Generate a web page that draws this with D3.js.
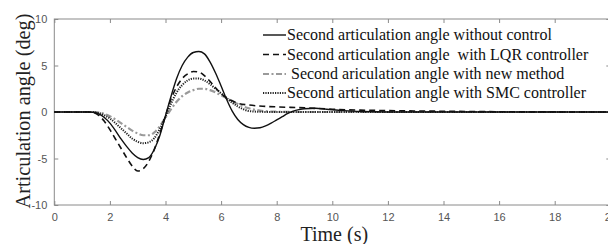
<!DOCTYPE html>
<html>
<head>
<meta charset="utf-8">
<script src="https://cdn.jsdelivr.net/npm/d3@7"></script>
<style>
  html, body { margin: 0; padding: 0; background: #fff; }
  svg { display: block; overflow: hidden; }
  .tick text { font-family: "Liberation Sans", Arial, sans-serif; font-size: 11px; fill: #555; }
  .legend text { font-family: "Liberation Serif", "Times New Roman", serif; font-size: 16px; fill: #111; white-space: pre; }
  .title { font-family: "Liberation Serif", "Times New Roman", serif; fill: #222; }
</style>
</head>
<body>
<div id="chart"></div>
<script>
// time samples (s) for each curve
const tSolid = [0, 1.2, 1.4, 1.6, 1.8, 2.0, 2.2, 2.4, 2.6, 2.8, 3.0, 3.2, 3.4, 3.6, 3.8, 4.0, 4.2, 4.4, 4.6, 4.8, 5.0, 5.2, 5.4, 5.6, 5.8, 6.0, 6.2, 6.4, 6.6, 6.8, 7.0, 7.2, 7.4, 7.6, 7.8, 8.0, 8.2, 8.4, 8.6, 8.8, 9.0, 9.4, 9.8, 10.4, 11, 12, 20];
const noControl = [0, 0, -0.02, -0.2, -0.6, -1.2, -2.0, -2.9, -3.7, -4.4, -4.9, -5.1, -4.9, -4.0, -2.5, -0.4, 1.7, 3.6, 5.0, 5.9, 6.4, 6.5, 6.25, 5.4, 4.2, 2.8, 1.35, 0.1, -0.8, -1.35, -1.65, -1.75, -1.7, -1.5, -1.2, -0.85, -0.5, -0.15, 0.1, 0.25, 0.35, 0.4, 0.3, 0.15, 0.05, 0, 0];

const tLqr = [0, 1.2, 1.4, 1.6, 1.8, 2.0, 2.2, 2.4, 2.6, 2.8, 3.0, 3.2, 3.4, 3.6, 3.8, 4.0, 4.2, 4.4, 4.6, 4.8, 5.0, 5.2, 5.4, 5.6, 5.8, 6.0, 6.2, 6.4, 6.6, 7.0, 7.5, 8.0, 9.0, 10, 11, 12, 14, 16, 20];
const lqr = [0, 0, -0.05, -0.35, -1.0, -1.9, -2.9, -3.9, -4.9, -5.8, -6.35, -6.1, -5.3, -4.0, -2.3, -0.4, 1.4, 2.7, 3.6, 4.1, 4.35, 4.3, 3.9, 3.3, 2.6, 2.0, 1.5, 1.2, 0.95, 0.75, 0.62, 0.55, 0.45, 0.3, 0.2, 0.15, 0.08, 0.03, 0];

const tNew = [0, 1.4, 1.6, 1.8, 2.0, 2.2, 2.4, 2.6, 2.8, 3.0, 3.2, 3.4, 3.6, 3.8, 4.0, 4.2, 4.4, 4.6, 4.8, 5.0, 5.2, 5.4, 5.6, 5.8, 6.0, 6.2, 6.4, 6.6, 6.8, 7.0, 7.4, 8.0, 9.0, 20];
const newMethod = [0, 0, -0.05, -0.2, -0.45, -0.8, -1.2, -1.6, -2.0, -2.3, -2.5, -2.5, -2.2, -1.5, -0.6, 0.3, 1.1, 1.7, 2.1, 2.35, 2.5, 2.5, 2.35, 2.1, 1.8, 1.5, 1.15, 0.85, 0.6, 0.4, 0.15, 0.03, 0, 0];

const tSmc = [0, 1.3, 1.5, 1.6, 1.8, 2.0, 2.2, 2.4, 2.6, 2.8, 3.0, 3.2, 3.4, 3.6, 3.8, 4.0, 4.2, 4.4, 4.6, 4.8, 5.0, 5.2, 5.4, 5.6, 5.8, 6.0, 6.2, 6.4, 6.6, 6.8, 7.0, 7.4, 8.0, 20];
const smc = [0, 0, -0.05, -0.1, -0.35, -0.7, -1.2, -1.75, -2.3, -2.85, -3.2, -3.35, -3.25, -2.8, -1.8, -0.5, 0.9, 2.1, 2.9, 3.4, 3.6, 3.6, 3.4, 3.0, 2.5, 2.0, 1.5, 1.0, 0.6, 0.3, 0.1, 0.02, 0, 0];

const legendLabels = [
  "Second articulation angle without control",
  "Second articulation angle  with LQR controller",
  " Second ariculation angle with new method",
  "Second articulation angle with SMC controller"
];
const xTicks = [0, 2, 4, 6, 8, 10, 12, 14, 16, 18, 20];
const yTicks = [-10, -5, 0, 5, 10];

const width = 608, height = 244;
const margin = {top: 19, left: 54.3, bottom: 39, right: -2.3};

const svg = d3.select("#chart").append("svg")
    .attr("width", width)
    .attr("height", height);

const xScale = d3.scaleLinear().domain([0, 20]).range([margin.left, width - margin.right]);
const yScale = d3.scaleLinear().domain([-10, 10]).range([height - margin.bottom, margin.top]);

// frame
svg.append("rect")
    .attr("x", xScale(0)).attr("y", yScale(10))
    .attr("width", xScale(20) - xScale(0))
    .attr("height", yScale(-10) - yScale(10))
    .attr("fill", "none").attr("stroke", "#8a8a8a").attr("stroke-width", 1);

// axes with inward ticks
const fmt = d => String(d);
const xAxisB = svg.append("g").attr("transform", `translate(0,${yScale(-10)})`)
    .call(d3.axisBottom(xScale).tickValues(xTicks).tickSizeInner(-4).tickSizeOuter(0).tickPadding(8).tickFormat(fmt));
const xAxisT = svg.append("g").attr("transform", `translate(0,${yScale(10)})`)
    .call(d3.axisTop(xScale).tickValues(xTicks).tickSizeInner(-4).tickSizeOuter(0).tickFormat(""));
const yAxisL = svg.append("g").attr("transform", `translate(${xScale(0)},0)`)
    .call(d3.axisLeft(yScale).tickValues(yTicks).tickSizeInner(-4).tickSizeOuter(0).tickPadding(7).tickFormat(fmt));
const yAxisR = svg.append("g").attr("transform", `translate(${xScale(20)},0)`)
    .call(d3.axisRight(yScale).tickValues(yTicks).tickSizeInner(-4).tickSizeOuter(0).tickFormat(""));
[xAxisB, xAxisT, yAxisL, yAxisR].forEach(g => {
  g.select(".domain").remove();
  g.selectAll(".tick line").attr("stroke", "#8a8a8a");
});

// series
const series = [
  {t: tSolid, v: noControl, color: "#111", width: 1.4, dash: null},
  {t: tLqr, v: lqr, color: "#111", width: 1.6, dash: "6,4"},
  {t: tNew, v: newMethod, color: "#9a9a9a", width: 2.2, dash: "6,2.5,2,2.5"},
  {t: tSmc, v: smc, color: "#222", width: 2, dash: "1.2,1.2"}
];

const line = d3.line()
    .x(d => xScale(d[0]))
    .y(d => yScale(d[1]))
    .curve(d3.curveMonotoneX);

// draw in back-to-front order
[2, 3, 1, 0].forEach(i => {
  const s = series[i];
  svg.append("path")
      .datum(s.t.map((t, k) => [t, s.v[k]]))
      .attr("fill", "none")
      .attr("stroke", s.color)
      .attr("stroke-width", s.width)
      .attr("stroke-dasharray", s.dash)
      .attr("d", line);
});

// legend
const legend = svg.append("g").attr("class", "legend");
const rowY = [35, 54.5, 74, 93];
series.forEach((s, i) => {
  legend.append("line")
      .attr("x1", 263).attr("x2", 286)
      .attr("y1", rowY[i]).attr("y2", rowY[i])
      .attr("stroke", s.color)
      .attr("stroke-width", s.width)
      .attr("stroke-dasharray", s.dash);
  legend.append("text")
      .attr("x", 287).attr("y", rowY[i] + 5)
      .text(legendLabels[i]);
});

// axis titles
svg.append("text").attr("class", "title")
    .attr("x", xScale(10) + 2).attr("y", 240.5)
    .attr("text-anchor", "middle")
    .attr("font-size", 20)
    .text("Time (s)");

svg.append("text").attr("class", "title")
    .attr("transform", `translate(30,${yScale(0) - 1}) rotate(-90)`)
    .attr("text-anchor", "middle")
    .attr("font-size", 20.3)
    .text("Articulation angle (deg)");
</script>
</body>
</html>
